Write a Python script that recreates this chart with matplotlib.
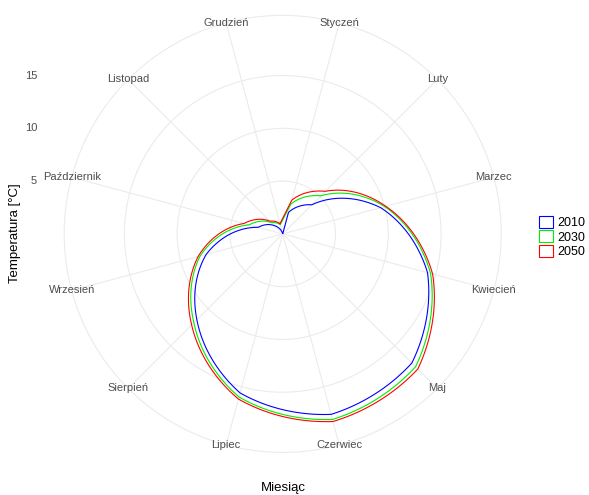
import numpy as np
import matplotlib
matplotlib.use("Agg")
import matplotlib.pyplot as plt
from matplotlib.path import Path
from matplotlib.patches import PathPatch, Patch
from matplotlib import transforms

plt.rcParams['font.family'] = ['Liberation Sans', 'DejaVu Sans']

# --- DATA ---
months = ["Styczeń", "Luty", "Marzec", "Kwiecień", "Maj", "Czerwiec",
          "Lipiec", "Sierpień", "Wrzesień", "Październik", "Listopad", "Grudzień"]
temp_2010 = [2.1, 3.9, 9.6, 14.2, 17.3, 17.7, 15.6, 11.5, 7.5, 2.4, 1.1, 0.0]
temp_2030 = [2.9, 5.1, 10.0, 14.5, 17.8, 18.2, 16.0, 11.9, 8.1, 3.3, 1.5, 0.9]
temp_2050 = [3.3, 5.7, 10.1, 14.7, 18.1, 18.4, 16.2, 12.2, 8.3, 3.8, 1.7, 1.0]
years = ["2010", "2030", "2050"]
colors = ["#0000FF", "#00EE00", "#FF0000"]
r_ticks = [5, 10, 15]

series = [temp_2010, temp_2030, temp_2050]
grid_col = "#EBEBEB"
text_col = "#4D4D4D"

# months sit in the middle of 12 equal sectors, clockwise from the top
theta = np.deg2rad((np.arange(len(months)) + 0.5) * 360 / len(months))

r_min = min(min(s) for s in series)
r_max = max(max(s) for s in series)
r_outer = r_min + (r_max - r_min) * 0.45 / 0.4   # ggplot-like outer ring

fig = plt.figure(figsize=(5.89, 4.95), dpi=100)
ax = fig.add_axes([0.109, 0.086, 0.742, 0.883], projection='polar')
ax.set_theta_zero_location('N')
ax.set_theta_direction(-1)
ax.set_ylim(r_min, r_outer)

# grid
ax.set_xticks(theta)
ax.set_xticklabels([])
ax.set_yticks(r_ticks)
ax.set_yticklabels([])
ax.grid(True, color=grid_col, linewidth=0.8)
ax.spines['polar'].set_color(grid_col)
ax.spines['polar'].set_linewidth(0.8)
ax.tick_params(length=0)

# closed outlines, straight segments in data space -> spirals in polar
for vals, col in zip(series, colors):
    verts = np.column_stack([theta, vals])
    verts = np.vstack([verts, verts[:1]])
    path = Path(verts, closed=True, _interpolation_steps=40)
    ax.add_patch(PathPatch(path, facecolor='none', edgecolor=col,
                           linewidth=0.8, transform=ax.transData, zorder=3))

# month labels on the outer ring
for t, lab in zip(theta, months):
    ax.text(t, r_outer, lab, ha='center', va='center', fontsize=8,
            color=text_col, clip_on=False)

# radial labels on the left
trans = transforms.blended_transform_factory(fig.transFigure, ax.transAxes)
for rt in r_ticks:
    y = 0.5 + 0.5 * (rt - r_min) / (r_outer - r_min)
    fig.text(37 / 589, y, str(rt), transform=trans, ha='right', va='center',
             fontsize=8, color=text_col)

fig.text(15 / 589, 1 - 233 / 495, "Temperatura [°C]", rotation=90,
         ha='center', va='center', fontsize=9.5, color='black')
fig.text(283 / 589, 1 - 488 / 495, "Miesiąc", ha='center', va='center',
         fontsize=9.5, color='black')

handles = [Patch(facecolor='white', edgecolor=c, linewidth=0.8) for c in colors]
fig.legend(handles, years, loc='center left',
           bbox_to_anchor=(530 / 589, 1 - 237 / 495), frameon=False,
           fontsize=9, handlelength=1.1, handleheight=1.1,
           labelspacing=0.1, handletextpad=0.35, borderpad=0.2)

fig.savefig("out.png", dpi=100)
